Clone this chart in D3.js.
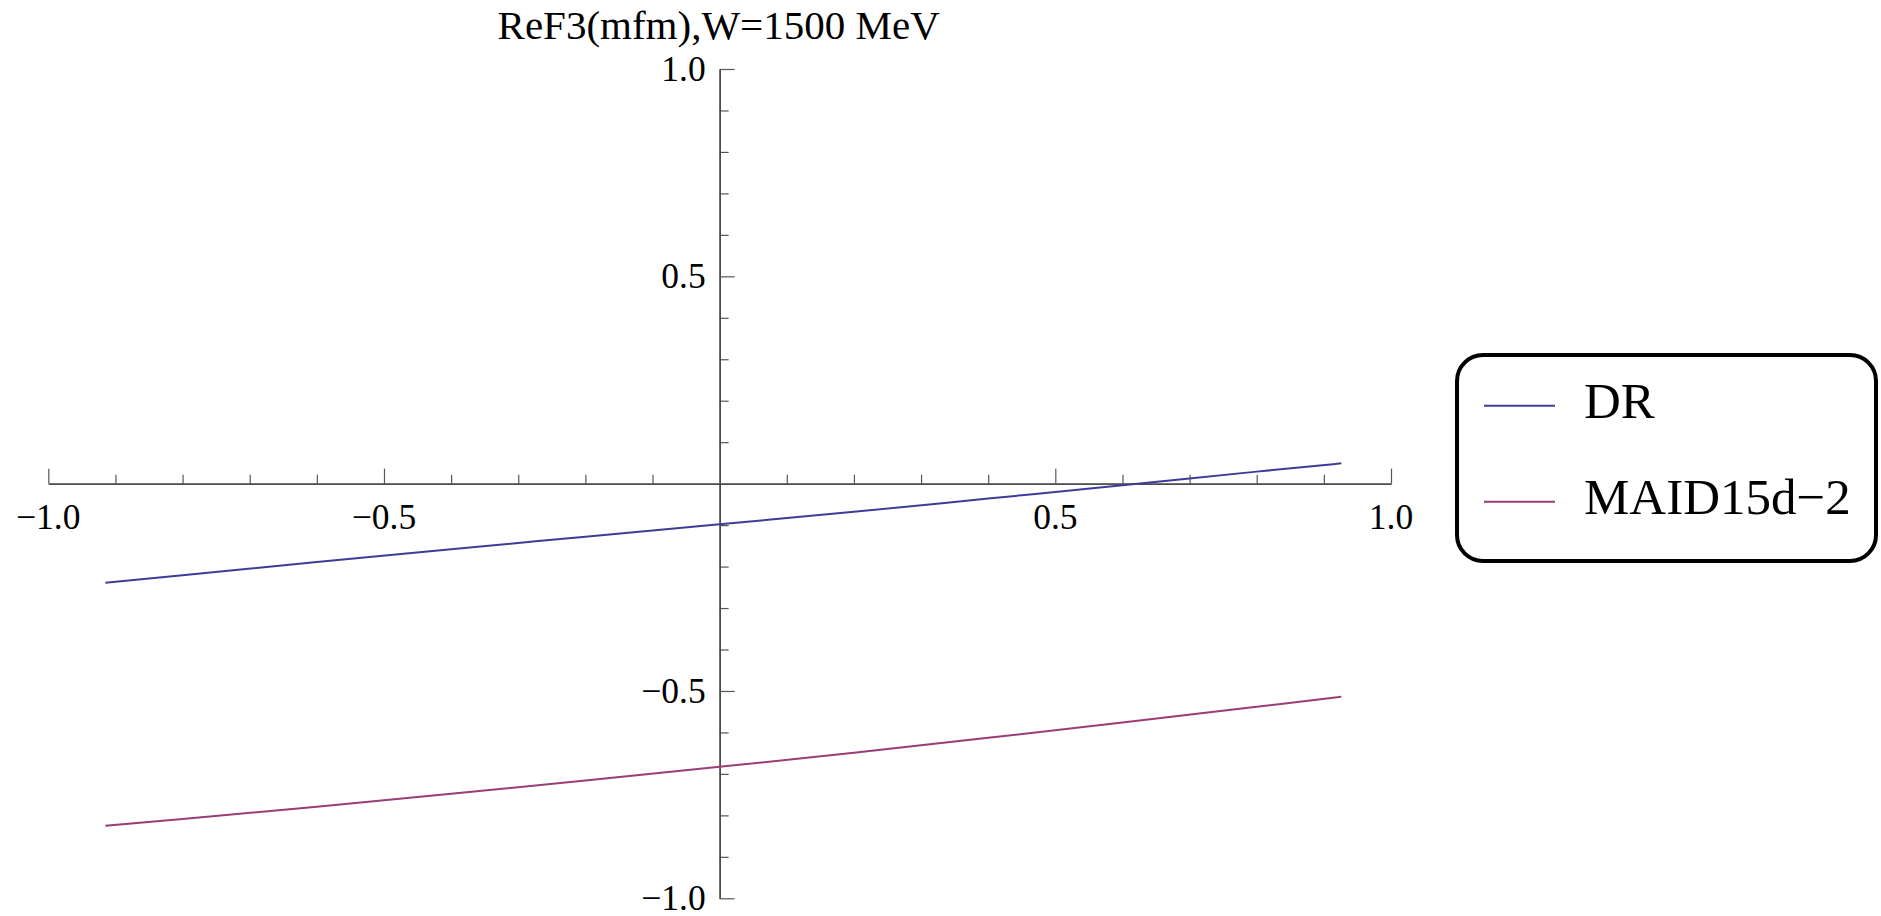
<!DOCTYPE html>
<html>
<head>
<meta charset="utf-8">
<script src="https://cdn.jsdelivr.net/npm/d3@7"></script>
<style>
  html, body { margin: 0; padding: 0; background: #fff; }
  svg { display: block; }
  text { font-family: "Liberation Serif", "DejaVu Serif", serif; fill: #000; }
</style>
</head>
<body>
<svg id="chart" width="1881" height="916"></svg>
<script>
// cos(theta) sample points and the two model curves of Re F3 (mfm)
const cosTheta = [-0.915, -0.8, -0.6, -0.4, -0.2, 0.0, 0.2, 0.4, 0.6, 0.8, 0.926];
const drValues = [-0.239, -0.221, -0.189, -0.158, -0.128, -0.098, -0.068, -0.036, -0.004, 0.029, 0.049];
const maidValues = [-0.825, -0.809, -0.779, -0.748, -0.716, -0.683, -0.649, -0.613, -0.576, -0.538, -0.514];

const seriesNames = ["DR", "MAID15d\u22122"];
const seriesColors = ["#3d3d99", "#993d74"];

const xMajorTicks = [-1.0, -0.5, 0.5, 1.0];
const xMinorTicks = [-0.9, -0.8, -0.7, -0.6, -0.4, -0.3, -0.2, -0.1, 0.1, 0.2, 0.3, 0.4, 0.6, 0.7, 0.8, 0.9];
const yMajorTicks = [-1.0, -0.5, 0.5, 1.0];
const yMinorTicks = [-0.9, -0.8, -0.7, -0.6, -0.4, -0.3, -0.2, -0.1, 0.1, 0.2, 0.3, 0.4, 0.6, 0.7, 0.8, 0.9];

const titleText = "ReF3(mfm),W=1500 MeV";

const svg = d3.select("#chart");

const x = d3.scaleLinear().domain([-1, 1]).range([48.3, 1391]);
const y = d3.scaleLinear().domain([-1, 1]).range([898.3, 69]);

const fmt = v => (v < 0 ? "\u2212" : "") + Math.abs(v).toFixed(1);

// x axis through y = 0, ticks pointing up, labels below
const xAxisG = svg.append("g").attr("transform", `translate(0,${y(0)})`);
xAxisG.append("g")
  .call(d3.axisTop(x).tickValues(xMinorTicks).tickSize(9).tickSizeOuter(0).tickFormat(""));
xAxisG.append("g")
  .call(d3.axisTop(x).tickValues(xMajorTicks).tickSize(15).tickSizeOuter(0).tickFormat(""));
xAxisG.selectAll("path.domain").attr("stroke", "#444").attr("stroke-width", 1.3);
xAxisG.selectAll(".tick line").attr("stroke", "#555").attr("stroke-width", 1.2);
xAxisG.selectAll("text.xlab")
  .data(xMajorTicks).enter().append("text")
  .attr("class", "xlab")
  .attr("x", d => x(d))
  .attr("y", 45)
  .attr("text-anchor", "middle")
  .attr("font-size", 35.5)
  .text(fmt);

// y axis through x = 0, ticks pointing right, labels on the left
const yAxisG = svg.append("g").attr("transform", `translate(${x(0)},0)`);
yAxisG.append("g")
  .call(d3.axisRight(y).tickValues(yMinorTicks).tickSize(9).tickSizeOuter(0).tickFormat(""));
yAxisG.append("g")
  .call(d3.axisRight(y).tickValues(yMajorTicks).tickSize(15).tickSizeOuter(0).tickFormat(""));
yAxisG.selectAll("path.domain").attr("stroke", "#444").attr("stroke-width", 1.3);
yAxisG.selectAll(".tick line").attr("stroke", "#555").attr("stroke-width", 1.2);
yAxisG.selectAll("text.ylab")
  .data(yMajorTicks).enter().append("text")
  .attr("class", "ylab")
  .attr("x", -14)
  .attr("y", d => y(d) + 12)
  .attr("text-anchor", "end")
  .attr("font-size", 35.5)
  .text(fmt);

// curves
const line = d3.line()
  .x(d => x(d[0]))
  .y(d => y(d[1]))
  .curve(d3.curveMonotoneX);

[drValues, maidValues].forEach((vals, i) => {
  svg.append("path")
    .datum(cosTheta.map((c, k) => [c, vals[k]]))
    .attr("fill", "none")
    .attr("stroke", seriesColors[i])
    .attr("stroke-width", 2)
    .attr("d", line);
});

// title
svg.append("text")
  .attr("x", x(0) - 1)
  .attr("y", 39)
  .attr("text-anchor", "middle")
  .attr("font-size", 41)
  .text(titleText);

// legend
const legend = svg.append("g");
legend.append("rect")
  .attr("x", 1457)
  .attr("y", 355)
  .attr("width", 419)
  .attr("height", 206)
  .attr("rx", 26)
  .attr("ry", 26)
  .attr("fill", "#fff")
  .attr("stroke", "#000")
  .attr("stroke-width", 4);

const legendRows = [405.7, 501.7];
seriesNames.forEach((name, i) => {
  legend.append("line")
    .attr("x1", 1484).attr("x2", 1555)
    .attr("y1", legendRows[i]).attr("y2", legendRows[i])
    .attr("stroke", seriesColors[i])
    .attr("stroke-width", 2);
  legend.append("text")
    .attr("x", 1584)
    .attr("y", legendRows[i] + 12.5)
    .attr("font-size", 51)
    .text(name);
});
</script>
</body>
</html>
